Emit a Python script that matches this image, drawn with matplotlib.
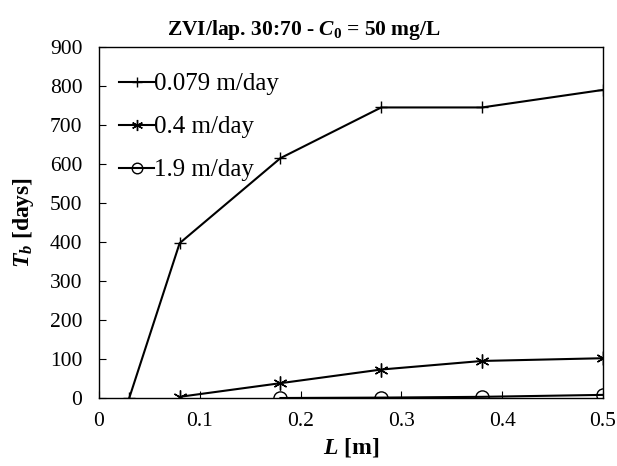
import matplotlib
matplotlib.use("Agg")
import matplotlib.pyplot as plt

plt.rcParams['font.family'] = ['Liberation Serif', 'DejaVu Serif']
plt.rcParams['mathtext.fontset'] = 'custom'
plt.rcParams['mathtext.rm'] = 'Liberation Serif:bold'
plt.rcParams['mathtext.it'] = 'Liberation Serif:bold:italic'
plt.rcParams['mathtext.bf'] = 'Liberation Serif:bold'

x1 = [0.03, 0.08, 0.18, 0.28, 0.38, 0.5]
y1 = [0, 397, 615, 745, 745, 790]
x2 = [0.08, 0.18, 0.28, 0.38, 0.5]
y2 = [3, 38, 73, 95, 102]
x3 = [0.18, 0.28, 0.38, 0.5]
y3 = [0, 1, 3, 8]
labels = ['0.079 m/day', '0.4 m/day', '1.9 m/day']

fig = plt.figure(figsize=(6.17, 4.66), dpi=100)
ax = fig.add_axes([99/617, 1-398/466, (603-99)/617, (398-47)/466])

ax.plot(x1, y1, color='black', lw=1.5, marker='+', ms=9, mew=1.0, mfc='none', label=labels[0])
ax.plot(x2, y2, color='black', lw=1.5, marker=(6, 2, 0), ms=10, mew=1.0, label=labels[1])
ax.plot(x3, y3, color='black', lw=1.5, marker='o', ms=9.5, mew=1.0, mfc='none', label=labels[2])

ax.set_xlim(0, 0.5)
ax.set_ylim(0, 900)
ax.set_xticks([0, 0.1, 0.2, 0.3, 0.4, 0.5])
ax.set_xticklabels(['0', '0.1', '0.2', '0.3', '0.4', '0.5'])
ax.set_yticks(range(0, 901, 100))
ax.tick_params(direction='in', labelsize=15.5, length=5, width=0.8)
ax.tick_params(axis='x', pad=10)
ax.tick_params(axis='y', pad=12)
for s in ax.spines.values():
    s.set_linewidth(1.0)

ax.set_title(r'ZVI/lap. 30:70 - $C_\mathit{0}$ = 50 mg/L', fontsize=15.5, fontweight='bold',
             pad=9, x=(304 - 99) / 504)
ax.set_xlabel(r'$L$ [m]', fontsize=17, fontweight='bold', labelpad=4)
ax.set_ylabel(r'$T_b$ [days]', fontsize=17, fontweight='bold', labelpad=10)

leg = ax.legend(loc='upper left', frameon=False, fontsize=18, handlelength=1.4,
                handletextpad=0.0, labelspacing=0.82, borderaxespad=0.0,
                markerscale=0.8, bbox_to_anchor=(0.02, 0.955))

fig.savefig('out.png', dpi=100)
